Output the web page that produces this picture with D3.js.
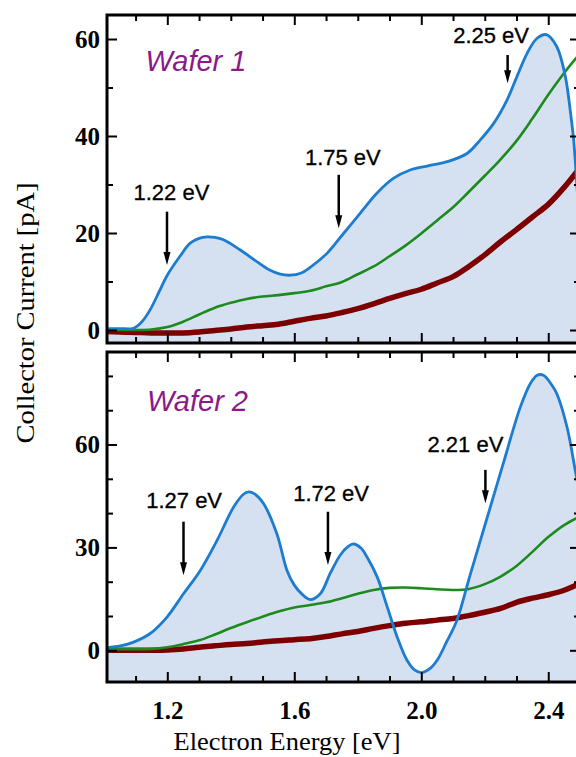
<!DOCTYPE html>
<html>
<head>
<meta charset="utf-8">
<script src="https://cdn.jsdelivr.net/npm/d3@7/dist/d3.min.js"></script>
<style>
  body { margin: 0; background: #fff; }
  svg { display: block; }
</style>
</head>
<body>
<div id="chart"></div>
<script>
// energy grid for the green and dark red curves (eV)
var energy = [1.00,1.05,1.10,1.15,1.20,1.25,1.30,1.35,1.40,1.45,1.50,1.55,1.60,1.65,1.70,1.75,
              1.80,1.85,1.90,1.95,2.00,2.05,2.10,2.15,2.20,2.25,2.30,2.35,2.40,2.45,2.50];

// Wafer 1
var w1Green = [0.0,0.0,0.0,0.1,0.6,1.7,3.2,4.6,5.6,6.4,6.9,7.2,7.6,8.1,9.0,9.9,
               11.5,13.1,15.2,17.4,19.9,22.6,25.3,28.5,31.8,35.2,39.0,43.6,48.5,53.0,57.0];
var w1Red   = [-0.3,-0.4,-0.5,-0.6,-0.6,-0.6,-0.4,-0.1,0.2,0.6,0.9,1.2,1.8,2.4,2.9,3.6,
               4.4,5.4,6.5,7.5,8.4,9.7,11.0,13.1,15.5,18.2,20.7,23.3,25.9,29.4,33.5];
var w1BlueE = [1.01,1.05,1.09,1.105,1.125,1.147,1.175,1.199,1.241,1.272,1.30,1.325,1.35,1.377,1.43,1.482,
               1.524,1.556,1.587,1.62,1.65,1.703,1.755,1.808,1.86,1.913,1.965,2.018,2.081,2.144,2.186,
               2.228,2.27,2.301,2.333,2.364,2.394,2.427,2.454,2.469,2.48,2.49,2.50];
var w1Blue  = [0.3,0.3,0.3,0.8,2.1,4.3,8.0,11.2,15.3,17.9,18.9,19.2,19.1,18.6,16.5,14.1,
               12.3,11.5,11.3,11.7,12.9,15.8,19.9,24.1,28.2,31.3,33.0,33.8,34.7,36.4,39.2,
               42.6,47.4,52.2,57.0,60.1,60.9,58.4,52.2,45.4,39.2,30.0,20.0];

// Wafer 2
var w2Green = [0.3,0.3,0.3,0.4,0.9,1.8,2.9,4.6,6.5,8.2,9.8,11.3,12.5,13.2,14.0,15.2,
               16.5,17.6,18.2,18.3,18.1,17.8,17.6,17.9,19.3,21.5,24.6,28.7,33.0,36.5,39.0];
var w2Red   = [0.0,0.0,0.0,0.0,0.1,0.4,0.9,1.3,1.7,2.0,2.4,2.8,3.1,3.4,4.0,4.8,
               5.5,6.4,7.2,7.9,8.3,8.8,9.3,10.1,11.1,12.2,14.0,15.2,16.2,17.5,19.5];
var w2BlueE = [1.01,1.052,1.094,1.146,1.199,1.251,1.304,1.357,1.409,1.44,1.456,1.475,1.503,1.545,1.577,
               1.60,1.625,1.65,1.682,1.713,1.745,1.77,1.787,1.81,1.829,1.861,1.893,1.924,1.955,1.98,
               2.00,2.025,2.05,2.08,2.112,2.154,2.207,2.26,2.312,2.345,2.365,2.385,2.41,2.427,2.459,2.485,2.50];
var w2Blue  = [0.8,1.3,2.4,4.9,9.7,16.5,23.3,32.1,41.8,45.5,46.2,45.6,42.8,34.0,23.3,
               19.0,16.3,14.8,16.5,22.4,27.8,30.3,31.0,29.8,27.2,21.4,12.6,3.9,-2.9,-5.8,
               -6.5,-5.5,-2.9,2.5,8.7,22.0,38.5,55.0,70.9,78.0,80.2,80.2,77.5,74.8,65.1,52.5,45.0];

// peak annotations: text, arrow energy, arrow tail / tip value, label energy / value
var w1Peaks = [
  {text: "1.22 eV", e: 1.199, from: 24.4, to: 13.4, le: 1.213, lv: 26.9},
  {text: "1.75 eV", e: 1.740, from: 32.0, to: 21.0, le: 1.753, lv: 34.0},
  {text: "2.25 eV", e: 2.272, from: 56.7, to: 50.9, le: 2.220, lv: 59.2}
];
var w2Peaks = [
  {text: "1.27 eV", e: 1.251, from: 37.5, to: 21.9, le: 1.253, lv: 41.4},
  {text: "1.72 eV", e: 1.706, from: 40.4, to: 24.9, le: 1.716, lv: 43.6},
  {text: "2.21 eV", e: 2.202, from: 52.6, to: 42.9, le: 2.139, lv: 57.9}
];

var xTicksMajor = [1.2, 1.6, 2.0, 2.4];
var xTicksMinor = [1.1, 1.3, 1.4, 1.5, 1.7, 1.8, 1.9, 2.1, 2.2, 2.3];

var panels = [
  {name: "Wafer 1", nameE: 1.131, nameV: 53.5, top: 15, bottom: 343, domain: [-2.68, 64.95],
   major: [0, 20, 40, 60], minor: [10, 30, 50],
   blueE: w1BlueE, blue: w1Blue, green: w1Green, red: w1Red, peaks: w1Peaks, xLabels: false},
  {name: "Wafer 2", nameE: 1.136, nameV: 69.9, top: 352, bottom: 682, domain: [-9.24, 86.97],
   major: [0, 30, 60], minor: [10, 20, 40, 50, 70, 80],
   blueE: w2BlueE, blue: w2Blue, green: w2Green, red: w2Red, peaks: w2Peaks, xLabels: true}
];

var width = 576, height = 757;
var left = 107, right = 580;

var svg = d3.select("#chart").append("svg")
    .attr("width", width)
    .attr("height", height);

var x = d3.scaleLinear().domain([1.01, 2.5]).range([left, right]);

var tickFont = "'Liberation Serif', 'Times New Roman', serif";
var sansFont = "'Liberation Sans', Arial, Helvetica, sans-serif";

panels.forEach(function(p, i) {
    var y = d3.scaleLinear().domain(p.domain).range([p.bottom, p.top]);
    var g = svg.append("g");

    g.append("clipPath").attr("id", "clip" + i)
      .append("rect")
        .attr("x", left).attr("y", p.top)
        .attr("width", right - left).attr("height", p.bottom - p.top);

    var plot = g.append("g").attr("clip-path", "url(#clip" + i + ")");

    var blueData = p.blueE.map(function(e, k) { return [e, p.blue[k]]; });
    var greenData = energy.map(function(e, k) { return [e, p.green[k]]; });
    var redData = energy.map(function(e, k) { return [e, p.red[k]]; });

    // filled area under the blue curve
    var area = d3.area()
        .x(function(d) { return x(d[0]); })
        .y0(p.bottom)
        .y1(function(d) { return y(d[1]); })
        .curve(d3.curveCatmullRom);

    var line = d3.line()
        .x(function(d) { return x(d[0]); })
        .y(function(d) { return y(d[1]); })
        .curve(d3.curveCatmullRom);

    plot.append("path").datum(blueData)
        .attr("d", area)
        .attr("fill", "#d5e1f0");

    plot.append("path").datum(redData)
        .attr("d", line)
        .attr("fill", "none")
        .attr("stroke", "#7c0000")
        .attr("stroke-width", 5.5);

    plot.append("path").datum(greenData)
        .attr("d", line)
        .attr("fill", "none")
        .attr("stroke", "#1c8a1c")
        .attr("stroke-width", 2.6);

    plot.append("path").datum(blueData)
        .attr("d", line)
        .attr("fill", "none")
        .attr("stroke", "#1c7cd0")
        .attr("stroke-width", 2.8);

    // ticks on all four sides, pointing inward
    function styleAxis(sel) {
        sel.select(".domain").remove();
        sel.selectAll(".tick line").attr("stroke", "#000").attr("stroke-width", 2);
    }

    g.append("g").attr("transform", "translate(0," + p.bottom + ")")
        .call(d3.axisBottom(x).tickValues(xTicksMajor).tickSize(-10).tickPadding(19)
              .tickFormat(p.xLabels ? d3.format(".1f") : ""))
        .call(styleAxis)
        .selectAll("text")
          .attr("font-family", tickFont).attr("font-weight", "bold")
          .attr("font-size", 25).attr("fill", "#000");
    g.append("g").attr("transform", "translate(0," + p.bottom + ")")
        .call(d3.axisBottom(x).tickValues(xTicksMinor).tickSize(-6).tickFormat(""))
        .call(styleAxis);
    g.append("g").attr("transform", "translate(0," + p.top + ")")
        .call(d3.axisTop(x).tickValues(xTicksMajor).tickSize(-10).tickFormat(""))
        .call(styleAxis);
    g.append("g").attr("transform", "translate(0," + p.top + ")")
        .call(d3.axisTop(x).tickValues(xTicksMinor).tickSize(-6).tickFormat(""))
        .call(styleAxis);

    g.append("g").attr("transform", "translate(" + left + ",0)")
        .call(d3.axisLeft(y).tickValues(p.major).tickSize(-10).tickPadding(7).tickFormat(d3.format("d")))
        .call(styleAxis)
        .selectAll("text")
          .attr("font-family", tickFont).attr("font-weight", "bold")
          .attr("font-size", 25).attr("fill", "#000");
    g.append("g").attr("transform", "translate(" + left + ",0)")
        .call(d3.axisLeft(y).tickValues(p.minor).tickSize(-6).tickFormat(""))
        .call(styleAxis);
    g.append("g").attr("transform", "translate(" + right + ",0)")
        .call(d3.axisRight(y).tickValues(p.major).tickSize(-10).tickFormat(""))
        .call(styleAxis);
    g.append("g").attr("transform", "translate(" + right + ",0)")
        .call(d3.axisRight(y).tickValues(p.minor).tickSize(-6).tickFormat(""))
        .call(styleAxis);

    // frame
    g.append("rect")
        .attr("x", left).attr("y", p.top)
        .attr("width", right - left).attr("height", p.bottom - p.top)
        .attr("fill", "none")
        .attr("stroke", "#000")
        .attr("stroke-width", 3);

    // panel title
    g.append("text")
        .attr("x", x(p.nameE))
        .attr("y", y(p.nameV))
        .attr("font-family", sansFont)
        .attr("font-style", "italic")
        .attr("font-size", 29)
        .attr("fill", "#8a1a8a")
        .text(p.name);

    // arrows + labels
    p.peaks.forEach(function(a) {
        var ax = x(a.e), y1 = y(a.from), y2 = y(a.to);
        var head = 13;
        g.append("line")
            .attr("x1", ax).attr("x2", ax)
            .attr("y1", y1).attr("y2", y2 - head + 2)
            .attr("stroke", "#000")
            .attr("stroke-width", 2.5);
        g.append("path")
            .attr("d", "M" + (ax - 3.5) + "," + (y2 - head) + "L" + (ax + 3.5) + "," + (y2 - head) +
                       "L" + ax + "," + y2 + "Z")
            .attr("fill", "#000");
        g.append("text")
            .attr("x", x(a.le))
            .attr("y", y(a.lv))
            .attr("text-anchor", "middle")
            .attr("font-family", sansFont)
            .attr("font-size", 22)
            .attr("fill", "#000")
            .attr("stroke", "#000")
            .attr("stroke-width", 0.3)
            .text(a.text);
    });
});

// axis titles
svg.append("text")
    .attr("x", 287)
    .attr("y", 750)
    .attr("text-anchor", "middle")
    .attr("font-family", tickFont)
    .attr("font-size", 25)
    .attr("textLength", 227)
    .attr("lengthAdjust", "spacingAndGlyphs")
    .attr("fill", "#000")
    .text("Electron Energy [eV]");

svg.append("text")
    .attr("transform", "translate(34,313) rotate(-90)")
    .attr("text-anchor", "middle")
    .attr("font-family", tickFont)
    .attr("font-size", 26)
    .attr("textLength", 261)
    .attr("lengthAdjust", "spacingAndGlyphs")
    .attr("fill", "#000")
    .text("Collector Current [pA]");
</script>
</body>
</html>
